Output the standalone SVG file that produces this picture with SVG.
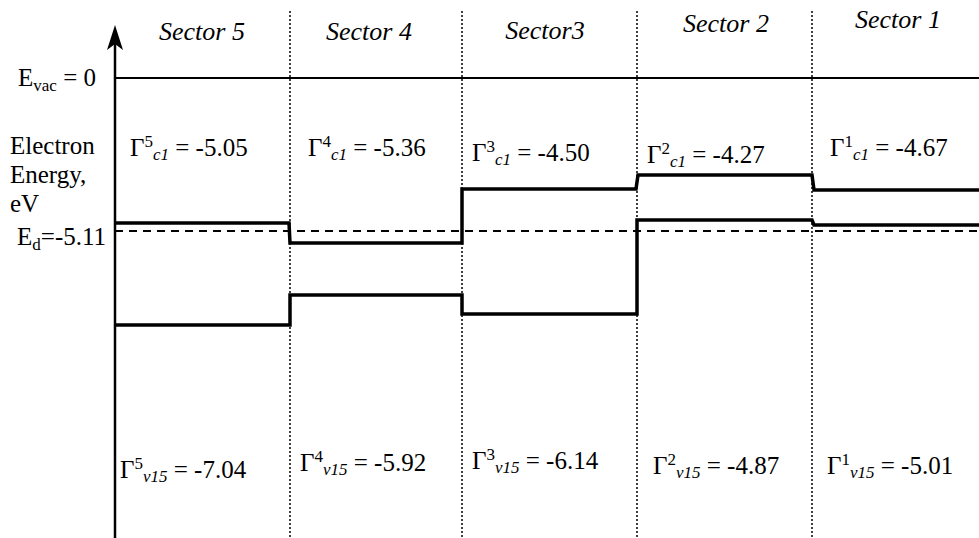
<svg xmlns="http://www.w3.org/2000/svg" width="979" height="538" viewBox="0 0 979 538">
<style>
text{font-family:"Liberation Serif","Noto Serif","DejaVu Serif","FreeSerif","Times",serif;font-size:25px;fill:#000}
.sec{font-style:italic;font-size:26px;text-anchor:middle}
.sup{font-size:17px}
.sub{font-size:17px;font-style:italic}
.subr{font-size:17px}
.div{stroke:#000;stroke-width:1.5;stroke-dasharray:2 2;fill:none}
.lvl{stroke:#000;stroke-width:3.5;fill:none;stroke-linejoin:miter}
</style>
<rect width="979" height="538" fill="#fff"/>
<g id="dividers">
<line class="div" x1="290" y1="11" x2="290" y2="538"/>
<line class="div" x1="462" y1="11" x2="462" y2="538"/>
<line class="div" x1="637" y1="11" x2="637" y2="538"/>
<line class="div" x1="812" y1="11" x2="812" y2="538"/>
</g>
<g id="axis">
<line x1="115" y1="40" x2="115" y2="538" stroke="#000" stroke-width="2.5"/>
<path d="M115,25 L107,50 L115,44 L123,50 Z" fill="#000"/>
</g>
<g id="vacuum">
<line x1="115" y1="78" x2="979" y2="78" stroke="#000" stroke-width="2"/>
</g>
<g id="defect-level">
<line x1="115" y1="231" x2="979" y2="231" stroke="#000" stroke-width="2" stroke-dasharray="8 6"/>
</g>
<g id="conduction-band">
<path class="lvl" d="M116,223 H289 L290,243 H462 V189 H636 L638,175 H812 L814,190 H979"/>
</g>
<g id="valence-band">
<path class="lvl" d="M116,325 H290 V295 H462 V314 H637 V220 H812 L814,225 H979"/>
</g>
<g id="sector-labels">
<text class="sec" x="202" y="40">Sector 5</text>
<text class="sec" x="369" y="40">Sector 4</text>
<text class="sec" x="545" y="39">Sector3</text>
<text class="sec" x="726" y="32">Sector 2</text>
<text class="sec" x="898" y="28">Sector 1</text>
</g>
<g id="axis-labels">
<text x="18" y="86">E<tspan class="subr" dy="5">vac</tspan><tspan dy="-5"> = 0</tspan></text>
<text x="10" y="154">Electron</text>
<text x="10" y="183">Energy,</text>
<text x="10" y="212">eV</text>
<text x="17" y="245">E<tspan class="subr" dy="5">d</tspan><tspan dy="-5">=-5.11</tspan></text>
</g>
<g id="conduction-labels">
<text x="130" y="156">Γ<tspan class="sup" dy="-9">5</tspan><tspan class="sub" dy="13">c1</tspan><tspan dy="-4"> = -5.05</tspan></text>
<text x="308" y="156">Γ<tspan class="sup" dy="-9">4</tspan><tspan class="sub" dy="13">c1</tspan><tspan dy="-4"> = -5.36</tspan></text>
<text x="472" y="161">Γ<tspan class="sup" dy="-9">3</tspan><tspan class="sub" dy="13">c1</tspan><tspan dy="-4"> = -4.50</tspan></text>
<text x="647" y="163">Γ<tspan class="sup" dy="-9">2</tspan><tspan class="sub" dy="13">c1</tspan><tspan dy="-4"> = -4.27</tspan></text>
<text x="830" y="156">Γ<tspan class="sup" dy="-9">1</tspan><tspan class="sub" dy="13">c1</tspan><tspan dy="-4"> = -4.67</tspan></text>
</g>
<g id="valence-labels">
<text x="120" y="478">Γ<tspan class="sup" dy="-9">5</tspan><tspan class="sub" dy="13">v15</tspan><tspan dy="-4"> = -7.04</tspan></text>
<text x="300" y="471">Γ<tspan class="sup" dy="-9">4</tspan><tspan class="sub" dy="13">v15</tspan><tspan dy="-4"> = -5.92</tspan></text>
<text x="472" y="469">Γ<tspan class="sup" dy="-9">3</tspan><tspan class="sub" dy="13">v15</tspan><tspan dy="-4"> = -6.14</tspan></text>
<text x="653" y="474">Γ<tspan class="sup" dy="-9">2</tspan><tspan class="sub" dy="13">v15</tspan><tspan dy="-4"> = -4.87</tspan></text>
<text x="827" y="474">Γ<tspan class="sup" dy="-9">1</tspan><tspan class="sub" dy="13">v15</tspan><tspan dy="-4"> = -5.01</tspan></text>
</g>
</svg>
